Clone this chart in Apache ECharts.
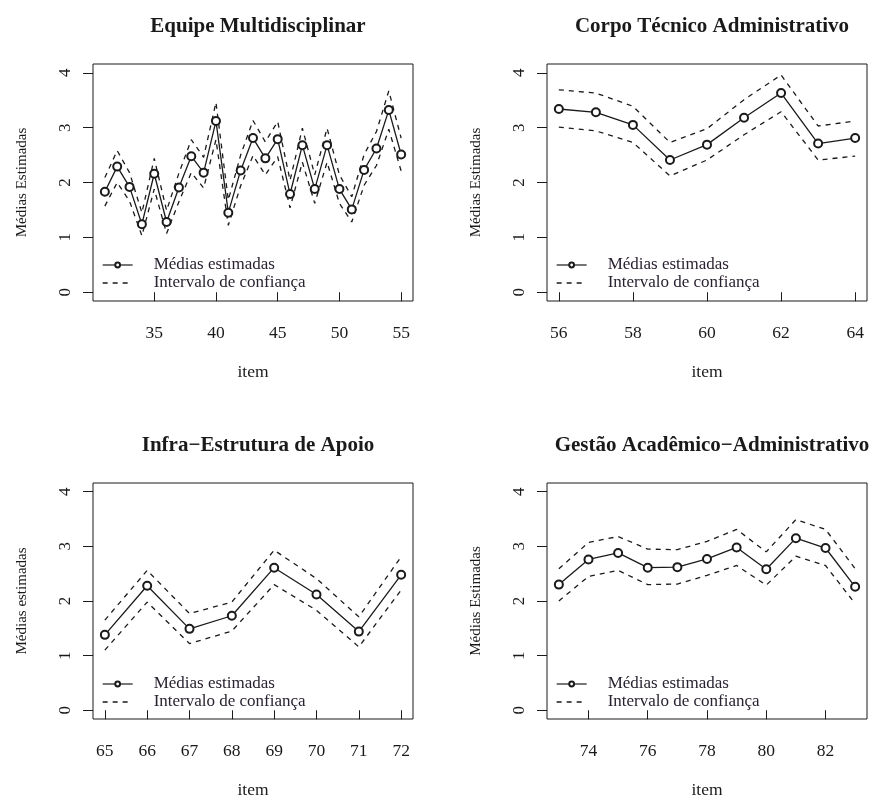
<!DOCTYPE html>
<html>
<head>
<meta charset="utf-8">
<script src="https://cdn.jsdelivr.net/npm/echarts@6/dist/echarts.min.js"></script>
<style>
  html, body { margin: 0; padding: 0; background: #fff; }
  #chart { width: 870px; height: 800px; }
</style>
</head>
<body>
<div id="chart"></div>
<script>
// painel 1: Equipe Multidisciplinar (itens 31-55)
var itens1 = [31, 32, 33, 34, 35, 36, 37, 38, 39, 40, 41, 42, 43, 44, 45, 46, 47, 48, 49, 50, 51, 52, 53, 54, 55]
var media1 = [1.83, 2.29, 1.92, 1.24, 2.16, 1.28, 1.91, 2.48, 2.18, 3.12, 1.45, 2.22, 2.81, 2.44, 2.79, 1.79, 2.68, 1.88, 2.68, 1.88, 1.51, 2.23, 2.62, 3.32, 2.51]
var sup1 = [2.09, 2.58, 2.18, 1.45, 2.44, 1.49, 2.17, 2.78, 2.46, 3.46, 1.68, 2.50, 3.13, 2.74, 3.11, 2.04, 2.99, 2.14, 2.99, 2.14, 1.74, 2.51, 2.93, 3.67, 2.81]
var inf1 = [1.57, 2.00, 1.66, 1.03, 1.88, 1.07, 1.65, 2.18, 1.90, 2.78, 1.22, 1.94, 2.49, 2.14, 2.47, 1.54, 2.37, 1.62, 2.37, 1.62, 1.28, 1.95, 2.31, 2.97, 2.21]

// painel 2: Corpo Técnico Administrativo (itens 56-64)
var itens2 = [56, 57, 58, 59, 60, 61, 62, 63, 64]
var media2 = [3.34, 3.28, 3.05, 2.41, 2.69, 3.18, 3.63, 2.71, 2.81]
var sup2 = [3.69, 3.63, 3.39, 2.73, 2.98, 3.51, 3.96, 3.03, 3.12]
var inf2 = [3.01, 2.94, 2.73, 2.12, 2.41, 2.87, 3.29, 2.41, 2.48]

// painel 3: Infra-Estrutura de Apoio (itens 65-72)
var itens3 = [65, 66, 67, 68, 69, 70, 71, 72]
var media3 = [1.38, 2.28, 1.49, 1.73, 2.61, 2.12, 1.44, 2.48]
var sup3 = [1.65, 2.56, 1.77, 1.98, 2.93, 2.41, 1.71, 2.81]
var inf3 = [1.10, 1.98, 1.22, 1.45, 2.30, 1.83, 1.16, 2.20]

// painel 4: Gestão Acadêmico-Administrativo (itens 73-83)
var itens4 = [73, 74, 75, 76, 77, 78, 79, 80, 81, 82, 83]
var media4 = [2.30, 2.76, 2.88, 2.61, 2.62, 2.77, 2.98, 2.58, 3.15, 2.97, 2.26]
var sup4 = [2.59, 3.07, 3.18, 2.95, 2.94, 3.09, 3.31, 2.90, 3.49, 3.31, 2.59]
var inf4 = [2.00, 2.45, 2.56, 2.30, 2.31, 2.47, 2.65, 2.29, 2.82, 2.65, 1.95]

var titulos = ['Equipe Multidisciplinar', 'Corpo Técnico Administrativo', 'Infra\u2212Estrutura de Apoio', 'Gestão Acadêmico\u2212Administrativo']
var nomesY = ['Médias Estimadas', 'Médias Estimadas', 'Médias estimadas', 'Médias Estimadas']
var ticksX = [[35, 40, 45, 50, 55], [56, 58, 60, 62, 64], [65, 66, 67, 68, 69, 70, 71, 72], [74, 76, 78, 80, 82]]
var ticksY = [0, 1, 2, 3, 4]

var paineis = [
    {x: itens1, m: media1, s: sup1, i: inf1},
    {x: itens2, m: media2, s: sup2, i: inf2},
    {x: itens3, m: media3, s: sup3, i: inf3},
    {x: itens4, m: media4, s: sup4, i: inf4}
]

var fonte = "'Liberation Serif', 'DejaVu Serif', serif"
var cor = '#1a1a1a'
var posGrid = [[93, 64], [547, 64], [93, 483], [547, 483]]
var W = 320, H = 237

function pares(xs, ys) {
    return xs.map(function (v, k) { return [v, ys[k]] })
}

var chart = echarts.init(document.getElementById('chart'))

var option = {
    backgroundColor: '#fff',
    animation: false,
    title: [],
    legend: [],
    grid: [],
    xAxis: [],
    yAxis: [],
    series: []
}

paineis.forEach(function (p, k) {
    var gx = posGrid[k][0], gy = posGrid[k][1]
    var xmin = p.x[0], xmax = p.x[p.x.length - 1]
    var pad = (xmax - xmin) * 0.04
    // nomes distintos por painel para as legendas nao se misturarem
    var nomeM = 'Médias estimadas' + '\u200b'.repeat(k)
    var nomeI = 'Intervalo de confiança' + '\u200b'.repeat(k)

    option.title.push({
        text: titulos[k],
        left: gx + W / 2,
        top: gy - 53,
        textAlign: 'center',
        textStyle: {fontFamily: fonte, fontWeight: 'bold', fontSize: 21, color: cor}
    })
    option.grid.push({
        left: gx, top: gy, width: W, height: H,
        show: true, borderColor: cor, borderWidth: 1, backgroundColor: 'transparent'
    })
    option.xAxis.push({
        type: 'value',
        gridIndex: k,
        min: xmin - pad,
        max: xmax + pad,
        name: 'item',
        nameLocation: 'middle',
        nameGap: 62,
        nameTextStyle: {fontFamily: fonte, fontSize: 17.5, color: cor},
        axisLine: {show: false},
        axisTick: {show: true, length: 9, lineStyle: {color: cor}, customValues: ticksX[k]},
        axisLabel: {fontFamily: fonte, fontSize: 17.5, color: cor, margin: 23, customValues: ticksX[k]},
        splitLine: {show: false}
    })
    option.yAxis.push({
        type: 'value',
        gridIndex: k,
        min: -0.16,
        max: 4.16,
        name: nomesY[k],
        nameLocation: 'middle',
        nameGap: 63,
        nameTextStyle: {fontFamily: fonte, fontSize: 15, color: cor},
        axisLine: {show: false},
        axisTick: {show: true, length: 10, lineStyle: {color: cor}, customValues: ticksY},
        axisLabel: {fontFamily: fonte, fontSize: 17, color: cor, rotate: 90, margin: 19, customValues: ticksY},
        splitLine: {show: false}
    })
    option.legend.push({
        orient: 'vertical',
        left: gx + 4,
        top: gy + 187,
        itemWidth: 30,
        itemHeight: 6,
        itemGap: 0,
        textStyle: {fontFamily: fonte, fontSize: 17, lineHeight: 18, color: '#2a2230', padding: [0, 0, 0, 16]},
        data: [
            {name: nomeM, itemStyle: {borderWidth: 1.2}, lineStyle: {width: 1.2}},
            {name: nomeI, itemStyle: {opacity: 0}, lineStyle: {width: 1.3}}
        ]
    })
    option.series.push({
        name: nomeM,
        type: 'line',
        xAxisIndex: k, yAxisIndex: k,
        data: pares(p.x, p.m),
        symbol: 'emptyCircle',
        symbolSize: 8,
        lineStyle: {color: cor, width: 1.3},
        itemStyle: {color: cor, borderWidth: 1.3}
    })
    option.series.push({
        name: nomeI,
        type: 'line',
        xAxisIndex: k, yAxisIndex: k,
        data: pares(p.x, p.s),
        symbol: 'none',
        lineStyle: {color: cor, width: 1.3, type: [5, 5]},
        itemStyle: {color: cor}
    })
    option.series.push({
        name: nomeI,
        type: 'line',
        xAxisIndex: k, yAxisIndex: k,
        data: pares(p.x, p.i),
        symbol: 'none',
        lineStyle: {color: cor, width: 1.3, type: [5, 5]},
        itemStyle: {color: cor}
    })
})

chart.setOption(option)
</script>
</body>
</html>
